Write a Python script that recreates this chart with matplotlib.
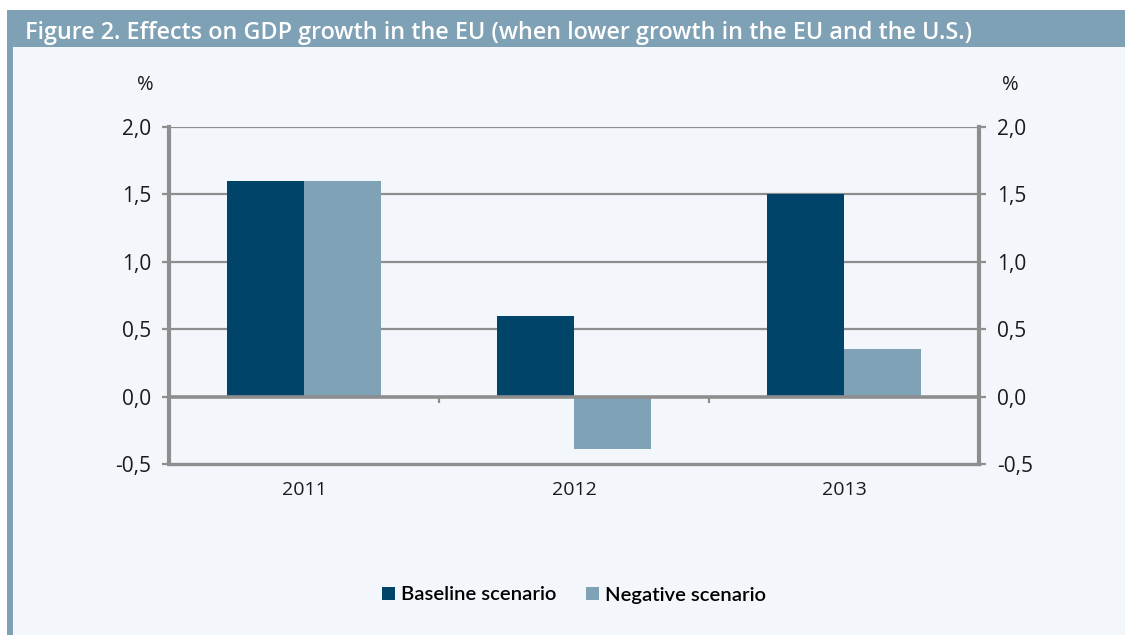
import matplotlib
matplotlib.use("Agg")
import matplotlib.pyplot as plt
from matplotlib.patches import Rectangle
from matplotlib.ticker import FuncFormatter

# dados do grafico (crescimento do PIB na UE, %)
anos = ["2011", "2012", "2013"]
cenario_base = [1.6, 0.6, 1.5]
cenario_negativo = [1.6, -0.39, 0.35]
rotulos_series = ["Baseline scenario", "Negative scenario"]
titulo = "Figure 2. Effects on GDP growth in the EU (when lower growth in the EU and the U.S.)"

cor_escura = "#00446a"
cor_clara = "#80a2b7"
cor_faixa = "#7fa1b5"
cor_fundo = "#f3f7fc"
cor_grade = "#8e8e8e"
cor_texto = "#1a1a1a"

fig = plt.figure(figsize=(11.25, 6.35), dpi=100, facecolor="white")

# fundo, faixa do titulo e barra lateral
fig.patches.append(Rectangle((13 / 1125, 0), 1, 1 - 47 / 635, transform=fig.transFigure,
                             facecolor=cor_fundo, edgecolor="none", zorder=-10))
fig.patches.append(Rectangle((7 / 1125, 1 - 47 / 635), 1, 37 / 635, transform=fig.transFigure,
                             facecolor=cor_faixa, edgecolor="none", zorder=-10))
fig.patches.append(Rectangle((7 / 1125, 0), 6 / 1125, 1 - 47 / 635, transform=fig.transFigure,
                             facecolor=cor_faixa, edgecolor="none", zorder=-10))
fig.text(25 / 1125, 1 - 39 / 635, titulo, color="white", fontsize=16.8,
         family="Open Sans", weight="semibold", ha="left", va="baseline")

ax = fig.add_axes([169 / 1125, 1 - 464 / 635, 810 / 1125, 337 / 635], zorder=1)
ax.set_facecolor("none")

x = list(range(len(anos)))
largura = 0.285
ax.bar([i - largura / 2 for i in x], cenario_base, largura, color=cor_escura,
       label=rotulos_series[0], zorder=3)
ax.bar([i + largura / 2 for i in x], cenario_negativo, largura, color=cor_clara,
       label=rotulos_series[1], zorder=3)

ax.set_xlim(-0.5, len(anos) - 0.5)
ax.set_ylim(-0.5, 2.0)
ax.set_yticks([-0.5, 0.0, 0.5, 1.0, 1.5, 2.0])
ax.yaxis.set_major_formatter(FuncFormatter(lambda v, p: f"{v:.1f}".replace(".", ",")))

# linhas de grade horizontais e linha do zero mais grossa
for v in [0.5, 1.0, 1.5, 2.0]:
    ax.axhline(v, color=cor_grade, lw=1.6, zorder=1)
ax.axhline(0, color=cor_grade, lw=2.6, zorder=4)
ax.vlines([i + 0.5 for i in x[:-1]], -0.045, 0, color=cor_grade, lw=1.6, zorder=4)

for lado in ["left", "right"]:
    ax.spines[lado].set_color(cor_grade)
    ax.spines[lado].set_linewidth(3)
ax.spines["bottom"].set_color(cor_grade)
ax.spines["bottom"].set_linewidth(2.4)
ax.spines["top"].set_visible(False)

ax.set_xticks(x)
ax.set_xticklabels(anos)
ax.tick_params(axis="x", length=0, pad=12, labelsize=14, labelcolor=cor_texto)
ax.tick_params(axis="y", which="both", left=True, right=True, labelleft=True, labelright=True,
               direction="out", length=5, width=1.6, color=cor_grade, pad=8,
               labelsize=15, labelcolor=cor_texto)
for t in ax.get_xticklabels() + ax.get_yticklabels():
    t.set_family("Open Sans")

fig.text(145 / 1125, 1 - 85 / 635, "%", fontsize=14.5, family="Open Sans", color=cor_texto,
         ha="center", va="center")
fig.text(1010 / 1125, 1 - 85 / 635, "%", fontsize=14.5, family="Open Sans", color=cor_texto,
         ha="center", va="center")

fig.legend(loc="center", bbox_to_anchor=(574 / 1125, 1 - 595 / 635), ncol=2, frameon=False,
           handlelength=0.6, handleheight=0.6, handletextpad=0.3, columnspacing=1.5,
           prop={"family": "Lato", "weight": "semibold", "size": 14.6})

fig.savefig("out.png", dpi=100, facecolor=fig.get_facecolor())
